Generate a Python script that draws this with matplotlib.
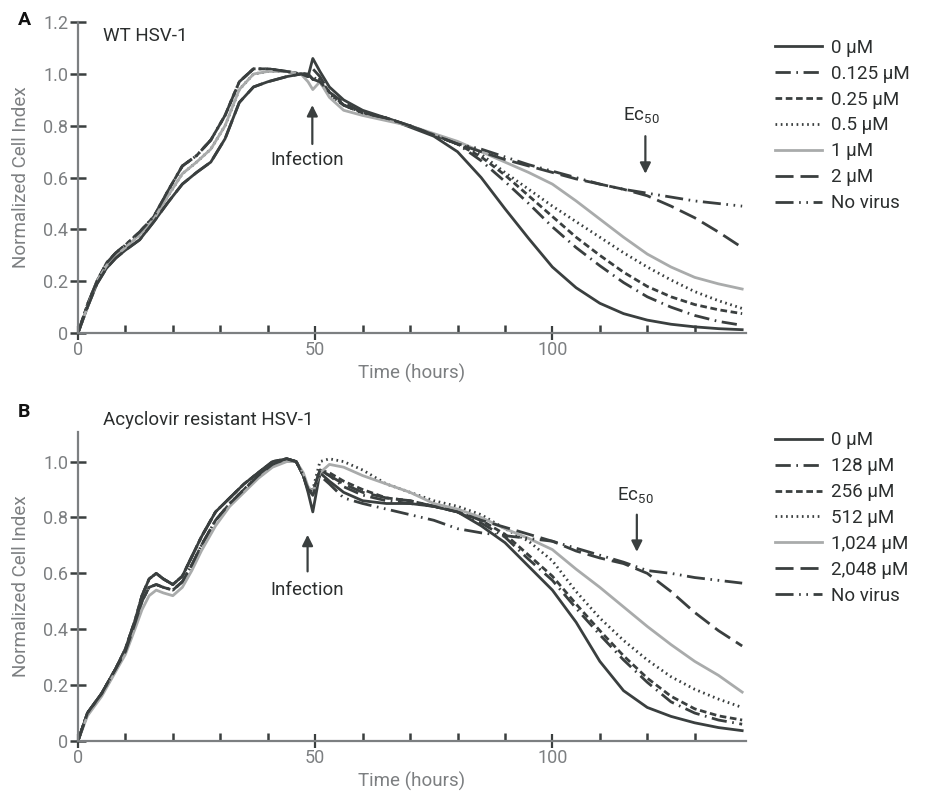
import matplotlib
matplotlib.use("Agg")
import matplotlib.pyplot as plt
from matplotlib.ticker import FixedLocator

plt.rcParams['font.family'] = ['Roboto', 'DejaVu Sans']
plt.rcParams['mathtext.default'] = 'regular'

DARK = '#3a3f3f'
GRAY = '#a9abab'
AXC = '#7c7f81'
TXT = '#2b2e2e'

# ---------------- Panel A data (WT HSV-1) ----------------
t_a = [0, 2, 4, 6, 8, 10, 13, 16, 19, 22, 25, 28, 31, 34, 37, 40, 44, 47,
       48.5, 49.5, 51, 53, 56, 60, 65, 70, 75, 80,
       85, 90, 95, 100, 105, 110, 115, 120, 125, 130, 135, 140]
a_pre_low = [0, 0.10, 0.19, 0.25, 0.29, 0.32, 0.36, 0.43, 0.505, 0.575, 0.62, 0.66, 0.75, 0.89, 0.95, 0.97, 0.99, 1.00]
a_pre_up = [0, 0.11, 0.20, 0.27, 0.31, 0.34, 0.39, 0.45, 0.55, 0.645, 0.685, 0.745, 0.84, 0.97, 1.02, 1.02, 1.01, 1.00]
a_pre_mid = [0, 0.10, 0.20, 0.26, 0.30, 0.33, 0.38, 0.44, 0.53, 0.615, 0.66, 0.71, 0.80, 0.94, 1.00, 1.01, 1.01, 1.00]

a_labels = ['0 µM', '0.125 µM', '0.25 µM', '0.5 µM', '1 µM', '2 µM', 'No virus']
a_0 = a_pre_low + [0.99, 1.06, 1.01, 0.95, 0.90, 0.86, 0.83, 0.795, 0.76, 0.70,
                   0.60, 0.48, 0.365, 0.255, 0.175, 0.115, 0.075, 0.05, 0.034, 0.024, 0.017, 0.013]
a_0125 = a_pre_up + [1.00, 0.99, 0.97, 0.92, 0.88, 0.85, 0.83, 0.80, 0.765, 0.73,
                     0.665, 0.585, 0.50, 0.41, 0.33, 0.26, 0.195, 0.14, 0.10, 0.068, 0.045, 0.03]
a_025 = a_pre_up + [1.00, 0.98, 0.98, 0.93, 0.88, 0.85, 0.83, 0.80, 0.765, 0.73,
                    0.68, 0.61, 0.53, 0.45, 0.37, 0.30, 0.235, 0.18, 0.14, 0.11, 0.09, 0.075]
a_05 = a_pre_mid + [1.00, 0.98, 0.97, 0.92, 0.88, 0.85, 0.83, 0.80, 0.765, 0.73,
                    0.69, 0.62, 0.555, 0.49, 0.43, 0.37, 0.31, 0.255, 0.205, 0.16, 0.125, 0.095]
a_1 = a_pre_mid + [0.97, 0.94, 0.97, 0.91, 0.86, 0.84, 0.82, 0.80, 0.77, 0.74,
                   0.70, 0.66, 0.62, 0.575, 0.51, 0.44, 0.37, 0.305, 0.255, 0.215, 0.19, 0.17]
a_2 = a_pre_low + [0.99, 1.02, 0.99, 0.93, 0.89, 0.85, 0.83, 0.80, 0.765, 0.73,
                   0.70, 0.67, 0.645, 0.62, 0.595, 0.575, 0.555, 0.53, 0.49, 0.445, 0.39, 0.33]
a_nv = a_pre_up + [1.00, 0.98, 0.97, 0.93, 0.88, 0.85, 0.83, 0.80, 0.765, 0.73,
                   0.71, 0.68, 0.65, 0.625, 0.60, 0.575, 0.555, 0.54, 0.525, 0.51, 0.50, 0.49]

# ---------------- Panel B data (Acyclovir resistant HSV-1) ----------------
t_b = [0, 2, 5, 8, 10, 12, 13.5, 15, 16.5, 18, 20, 22, 24, 26, 29, 32, 35, 38, 41, 44, 46,
       47.5, 48.5, 49.5, 51, 53, 56, 60, 65, 70, 75, 80,
       85, 90, 95, 100, 105, 110, 115, 120, 125, 130, 135, 140]
b_pre_up = [0, 0.10, 0.17, 0.26, 0.33, 0.43, 0.52, 0.58, 0.60, 0.58, 0.56, 0.59, 0.66, 0.73, 0.82, 0.87, 0.92, 0.96, 1.00, 1.01, 1.00]
b_pre_mid = [0, 0.10, 0.17, 0.26, 0.32, 0.42, 0.50, 0.55, 0.56, 0.55, 0.54, 0.57, 0.63, 0.70, 0.79, 0.85, 0.90, 0.95, 0.99, 1.01, 1.00]
b_pre_low = [0, 0.09, 0.16, 0.25, 0.31, 0.40, 0.47, 0.52, 0.54, 0.53, 0.52, 0.55, 0.61, 0.68, 0.77, 0.84, 0.89, 0.94, 0.98, 1.00, 1.00]

b_labels = ['0 µM', '128 µM', '256 µM', '512 µM', '1,024 µM', '2,048 µM', 'No virus']
b_0 = b_pre_up + [0.95, 0.89, 0.82, 0.96, 0.93, 0.89, 0.86, 0.85, 0.85, 0.84, 0.82,
                  0.77, 0.71, 0.625, 0.54, 0.425, 0.285, 0.18, 0.12, 0.088, 0.065, 0.048, 0.037]
b_128 = b_pre_mid + [0.95, 0.90, 0.88, 0.97, 0.95, 0.91, 0.88, 0.86, 0.85, 0.84, 0.82,
                     0.78, 0.73, 0.65, 0.575, 0.475, 0.38, 0.29, 0.21, 0.14, 0.10, 0.075, 0.06]
b_256 = b_pre_up + [0.95, 0.90, 0.89, 0.97, 0.96, 0.93, 0.90, 0.87, 0.86, 0.84, 0.82,
                    0.79, 0.74, 0.665, 0.59, 0.49, 0.395, 0.305, 0.225, 0.16, 0.115, 0.09, 0.075]
b_512 = b_pre_mid + [0.95, 0.90, 0.90, 1.00, 1.01, 1.00, 0.97, 0.92, 0.89, 0.86, 0.84,
                     0.81, 0.76, 0.715, 0.645, 0.535, 0.44, 0.36, 0.29, 0.23, 0.185, 0.15, 0.12]
b_1024 = b_pre_low + [0.96, 0.91, 0.89, 0.96, 0.99, 0.98, 0.95, 0.92, 0.89, 0.85, 0.83,
                      0.80, 0.76, 0.725, 0.685, 0.615, 0.55, 0.48, 0.41, 0.345, 0.285, 0.235, 0.175]
b_2048 = b_pre_mid + [0.95, 0.90, 0.89, 0.97, 0.95, 0.92, 0.89, 0.87, 0.86, 0.84, 0.82,
                      0.79, 0.765, 0.74, 0.715, 0.68, 0.655, 0.635, 0.60, 0.535, 0.46, 0.395, 0.34]
b_nv = b_pre_up + [0.95, 0.90, 0.88, 0.95, 0.92, 0.87, 0.85, 0.83, 0.81, 0.79, 0.76,
                   0.745, 0.735, 0.725, 0.715, 0.69, 0.665, 0.64, 0.61, 0.60, 0.585, 0.575, 0.565]

# ---------------- styles ----------------
styles = [
    dict(color=DARK, ls='-'),
    dict(color=DARK, ls=(0, (5.5, 2, 0.6, 2))),
    dict(color=DARK, ls=(0, (2.4, 1.3))),
    dict(color=DARK, ls=(0, (0.6, 1.3))),
    dict(color=GRAY, ls='-'),
    dict(color=DARK, ls=(0, (6.5, 2.5))),
    dict(color=DARK, ls=(0, (6.5, 2, 0.6, 2, 0.6, 2))),
]
LW = 2.0
FS = 13.5

fig = plt.figure(figsize=(9.27, 7.93), dpi=100)
axA = fig.add_axes([0.0841, 0.580, 0.7206, 0.392])
axB = fig.add_axes([0.0841, 0.0656, 0.7206, 0.390])


def style_axes(ax, ymax, yticks):
    ax.set_xlim(0, 140.8)
    ax.set_ylim(0, ymax)
    for s in ['top', 'right']:
        ax.spines[s].set_visible(False)
    for s in ['left', 'bottom']:
        ax.spines[s].set_color(AXC)
        ax.spines[s].set_linewidth(1.6)
    ax.xaxis.set_major_locator(FixedLocator([0, 50, 100]))
    ax.xaxis.set_minor_locator(FixedLocator([10, 20, 30, 40, 60, 70, 80, 90, 110, 120, 130]))
    ax.set_xticklabels(['0', '50', '100'])
    ax.yaxis.set_major_locator(FixedLocator(yticks))
    ax.set_yticklabels(['0' if v == 0 else f'{v:.1f}' for v in yticks])
    ax.tick_params(axis='x', which='major', direction='inout', length=10, width=1.6,
                   color=DARK, labelcolor=AXC, labelsize=13, pad=1)
    ax.tick_params(axis='x', which='minor', direction='in', length=6, width=1.8, color=DARK)
    ax.tick_params(axis='y', which='major', direction='inout', length=12, width=1.8,
                   color=DARK, labelcolor=AXC, labelsize=13, pad=1)
    ax.set_xlabel('Time (hours)', color=AXC, fontsize=FS)
    ax.xaxis.set_label_coords(0.5, -0.1)
    ax.set_ylabel('Normalized Cell Index', color=AXC, fontsize=FS)
    ax.yaxis.set_label_coords(-0.072, 0.5)


def draw(ax, t, series, labels):
    handles = []
    for vals, st, lab in zip(series, styles, labels):
        h, = ax.plot(t, vals, color=st['color'], linestyle=st['ls'], lw=LW, label=lab)
        handles.append(h)
    return handles


hA = draw(axA, t_a, [a_0, a_0125, a_025, a_05, a_1, a_2, a_nv], a_labels)
hB = draw(axB, t_b, [b_0, b_128, b_256, b_512, b_1024, b_2048, b_nv], b_labels)

style_axes(axA, 1.2, [0, 0.2, 0.4, 0.6, 0.8, 1.0, 1.2])
style_axes(axB, 1.107, [0, 0.2, 0.4, 0.6, 0.8, 1.0])

legkw = dict(loc='upper left', frameon=False, fontsize=FS, handlelength=2.5,
             handletextpad=0.5, labelspacing=0.42, borderpad=0, borderaxespad=0,
             labelcolor=TXT)
fig.legend(handles=hA, bbox_to_anchor=(0.836, 0.951), **legkw)
fig.legend(handles=hB, bbox_to_anchor=(0.836, 0.456), **legkw)

# annotations
arrow = dict(arrowstyle='-|>', color=DARK, lw=1.6, mutation_scale=16, shrinkA=0, shrinkB=0)
axA.annotate('', xy=(49.4, 0.88), xytext=(49.4, 0.73), arrowprops=arrow)
axA.text(48.3, 0.667, 'Infection', ha='center', va='center', fontsize=FS, color=TXT)
axA.annotate('', xy=(119.6, 0.615), xytext=(119.6, 0.76), arrowprops=arrow)
axA.text(118.8, 0.84, r'Ec$_{\mathregular{50}}$', ha='center', va='center', fontsize=FS, color=TXT)
axA.text(5.3, 1.147, 'WT HSV-1', ha='left', va='center', fontsize=FS, color=TXT)

axB.annotate('', xy=(48.4, 0.738), xytext=(48.4, 0.607), arrowprops=arrow)
axB.text(48.3, 0.54, 'Infection', ha='center', va='center', fontsize=FS, color=TXT)
axB.annotate('', xy=(117.8, 0.677), xytext=(117.8, 0.81), arrowprops=arrow)
axB.text(117.4, 0.88, r'Ec$_{\mathregular{50}}$', ha='center', va='center', fontsize=FS, color=TXT)

fig.text(103 / 927, 1 - 420 / 793, 'Acyclovir resistant HSV-1', ha='left', va='center',
         fontsize=FS, color=TXT)
fig.text(18 / 927, 1 - 20 / 793, 'A', ha='left', va='center', fontsize=14,
         fontweight='bold', color='#111111')
fig.text(18 / 927, 1 - 412 / 793, 'B', ha='left', va='center', fontsize=14,
         fontweight='bold', color='#111111')

fig.savefig('out.png', dpi=100, facecolor='white')
